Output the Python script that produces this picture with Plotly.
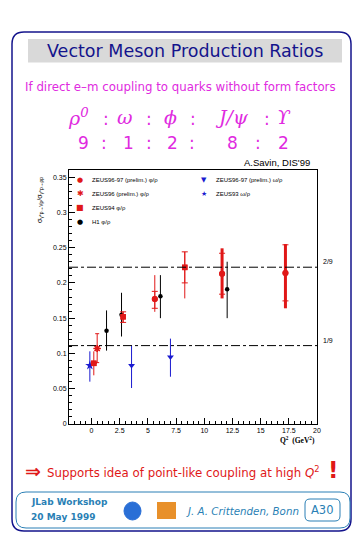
import plotly.graph_objects as go

# ---------------- data ----------------
x_ticks = [0, 2.5, 5, 7.5, 10, 12.5, 15, 17.5, 20]
x_tick_labels = ["0", "2.5", "5", "7.5", "10", "12.5", "15", "17.5", "20"]
y_ticks = [0, 0.05, 0.1, 0.15, 0.2, 0.25, 0.3, 0.35]
y_tick_labels = ["0", "0.05", "0.1", "0.15", "0.2", "0.25", "0.3", "0.35"]

# ZEUS96-97 (prelim.) phi/rho  (red circles)
z9697_phi_q2 = [5.61, 11.58, 17.2]
z9697_phi_r = [0.177, 0.213, 0.214]
z9697_phi_tot_up = [0.034, 0.036, 0.041]
z9697_phi_tot_dn = [0.018, 0.035, 0.050]
z9697_phi_stat_up = [0.011, 0.029, 0.040]
z9697_phi_stat_dn = [0.013, 0.029, 0.0395]

# ZEUS96 (prelim.) phi/rho (red star)
z96_phi_q2 = [0.5]
z96_phi_r = [0.107]
z96_phi_tot_up = [0.021]
z96_phi_tot_dn = [0.020]

# ZEUS94 phi/rho (red squares)
z94_phi_q2 = [0.2, 2.8, 8.27]
z94_phi_r = [0.086, 0.152, 0.222]
z94_phi_tot_up = [0.017, 0.007, 0.022]
z94_phi_tot_dn = [0.017, 0.008, 0.044]
z94_phi_stat_up = [0.0, 0.007, 0.022]
z94_phi_stat_dn = [0.0, 0.008, 0.022]

# H1 phi/rho (black)
h1_phi_q2 = [1.33, 2.66, 6.11, 12.03]
h1_phi_r = [0.132, 0.155, 0.181, 0.191]
h1_phi_up = [0.029, 0.031, 0.030, 0.039]
h1_phi_dn = [0.028, 0.031, 0.031, 0.041]

# ZEUS96-97 (prelim.) omega/rho (blue triangles)
z9697_om_q2 = [3.55, 7.0]
z9697_om_r = [0.083, 0.095]
z9697_om_up = [0.028, 0.026]
z9697_om_dn = [0.032, 0.028]

# ZEUS93 omega/rho (blue star)
z93_om_q2 = [-0.15]
z93_om_r = [0.083]
z93_om_up = [0.020]
z93_om_dn = [0.023]

ref_levels = [2 / 9, 1 / 9]
ref_labels = ["2/9", "1/9"]

legend_left = ["ZEUS96-97 (prelim.) φ/ρ", "ZEUS96 (prelim.) φ/ρ", "ZEUS94 φ/ρ", "H1 φ/ρ"]
legend_right = ["ZEUS96-97 (prelim.) ω/ρ", "ZEUS93 ω/ρ"]

ratio_names = ["ρ<sup>0</sup>", "ω", "ϕ", "J/ψ", "ϒ"]
ratio_values = ["9", "1", "2", "8", "2"]

# ---------------- styles ----------------
RED = "#e01818"
BLUE = "#1a1ad0"
BLACK = "#000000"
MAG = "#e02ae0"
NAVY = "#14148c"
TEAL = "#2a7fb5"

W, H = 363, 535
L, R, T, B = 69, 46, 170, 111
PW, PH = W - L - R, H - T - B


def xp(px):
    return (px - L) / PW


def yp(py):
    return (H - B - py) / PH


fig = go.Figure()


def add_series(x, y, up, dn, color, symbol, size, thick=1.0, stat_up=None, stat_dn=None, cap=0):
    fig.add_trace(go.Scatter(
        x=x, y=y, mode="markers",
        marker=dict(color=color, symbol=symbol, size=size, line=dict(width=0)),
        error_y=dict(type="data", symmetric=False, array=up, arrayminus=dn,
                     color=color, thickness=thick, width=cap),
        showlegend=False, hoverinfo="skip"))
    if stat_up is not None:
        fig.add_trace(go.Scatter(
            x=x, y=y, mode="markers",
            marker=dict(color=color, symbol=symbol, size=size, line=dict(width=0)),
            error_y=dict(type="data", symmetric=False, array=stat_up, arrayminus=stat_dn,
                         color=color, thickness=1, width=3),
            showlegend=False, hoverinfo="skip"))


# blue
add_series(z93_om_q2, z93_om_r, z93_om_up, z93_om_dn, BLUE, "star", 7)
add_series(z9697_om_q2, z9697_om_r, z9697_om_up, z9697_om_dn, BLUE, "triangle-down", 6)
# black H1
add_series(h1_phi_q2, h1_phi_r, h1_phi_up, h1_phi_dn, BLACK, "circle", 4.5)
# red
add_series(z96_phi_q2, z96_phi_r, z96_phi_tot_up, z96_phi_tot_dn, RED, "asterisk-open", 6, cap=2)
fig.add_trace(go.Scatter(x=z96_phi_q2, y=z96_phi_r, mode="markers",
                         marker=dict(color=RED, symbol="asterisk-open", size=6,
                                     line=dict(color=RED, width=1.5)),
                         showlegend=False, hoverinfo="skip"))
add_series(z94_phi_q2, z94_phi_r, z94_phi_tot_up, z94_phi_tot_dn, RED, "square", 5.5,
           stat_up=z94_phi_stat_up, stat_dn=z94_phi_stat_dn)
THIN = [0]
THICK = [1, 2]
for idxs, th in ((THIN, 1.0), (THICK, 3.0)):
    add_series([z9697_phi_q2[i] for i in idxs], [z9697_phi_r[i] for i in idxs],
               [z9697_phi_tot_up[i] for i in idxs], [z9697_phi_tot_dn[i] for i in idxs],
               RED, "circle", 6, thick=th,
               stat_up=[z9697_phi_stat_up[i] for i in idxs],
               stat_dn=[z9697_phi_stat_dn[i] for i in idxs])

# reference lines
for lev, lab in zip(ref_levels, ref_labels):
    fig.add_shape(type="line", xref="x", yref="y", x0=-2, x1=20, y0=lev, y1=lev,
                  line=dict(color=BLACK, width=1, dash="dashdot"))
    fig.add_annotation(xref="paper", yref="y", x=xp(321), y=lev, text=lab, showarrow=False,
                       xanchor="left", yanchor="bottom", font=dict(size=7, color=BLACK,
                                                                    family="Liberation Sans"))

shapes = []
annotations = []


def rounded(x0, y0, x1, y1, r, color, width, fill=None):
    p = (f"M {xp(x0 + r)} {yp(y0)} L {xp(x1 - r)} {yp(y0)} Q {xp(x1)} {yp(y0)} {xp(x1)} {yp(y0 + r)} "
         f"L {xp(x1)} {yp(y1 - r)} Q {xp(x1)} {yp(y1)} {xp(x1 - r)} {yp(y1)} "
         f"L {xp(x0 + r)} {yp(y1)} Q {xp(x0)} {yp(y1)} {xp(x0)} {yp(y1 - r)} "
         f"L {xp(x0)} {yp(y0 + r)} Q {xp(x0)} {yp(y0)} {xp(x0 + r)} {yp(y0)} Z")
    shapes.append(dict(type="path", xref="paper", yref="paper", path=p,
                       line=dict(color=color, width=width),
                       fillcolor=fill if fill else "rgba(0,0,0,0)", layer="below"))


# outer frame
rounded(12, 32, 351, 531, 12, NAVY, 1.5)
# title band
shapes.append(dict(type="rect", xref="paper", yref="paper", x0=xp(28), x1=xp(342), y0=yp(39), y1=yp(62.5),
                   fillcolor="#d9d9d9", line=dict(width=0), layer="below"))
# bottom box
rounded(16, 492, 350, 528, 10, TEAL, 1)
rounded(305, 499, 340, 521, 5, TEAL, 1)
# logos
shapes.append(dict(type="circle", xref="paper", yref="paper", x0=xp(124), x1=xp(141), y0=yp(502), y1=yp(520),
                   fillcolor="#2a6fd6", line=dict(color="#2a6fd6", width=1)))
shapes.append(dict(type="rect", xref="paper", yref="paper", x0=xp(157), x1=xp(176), y0=yp(502), y1=yp(519),
                   fillcolor="#e8902a", line=dict(width=0)))


def txt(x, y, s, size, color, family="DejaVu Sans", xanchor="center", angle=0):
    annotations.append(dict(xref="paper", yref="paper", x=xp(x), y=yp(y), text=s, showarrow=False,
                            xanchor=xanchor, yanchor="middle", textangle=angle,
                            font=dict(size=size, color=color, family=family)))


txt(185, 51, "Vector Meson Production Ratios", 17.5, NAVY)
txt(180, 87.5, "If direct e–m coupling to quarks without form factors", 11.8, MAG)

name_x = [78, 125, 170, 232, 284]
colon_name_x = [106, 149, 193, 267]
for s, x in zip(ratio_names, name_x):
    txt(x, 117, f"<i>{s}</i>", 19, MAG, family="DejaVu Serif")
for x in colon_name_x:
    txt(x, 119, ":", 17, MAG)
val_x = [83, 128, 172, 232, 283]
colon_val_x = [104, 149, 192, 258]
for s, x in zip(ratio_values, val_x):
    txt(x, 143, s, 17, MAG)
for x in colon_val_x:
    txt(x, 143, ":", 17, MAG)

txt(312, 162.5, "A.Savin, DIS'99", 9.5, BLACK, family="Liberation Sans", xanchor="right")

# in-plot legend
leg_rows = [179.5, 193.5, 207.5, 221.5]
left_sym = [("●", RED, 7), ("✱", RED, 8), ("■", RED, 8), ("●", BLACK, 7)]
for (sym, col, sz), lab, y in zip(left_sym, legend_left, leg_rows):
    txt(80, y, sym, sz, col)
    txt(90, y, lab, 6, BLACK, family="Liberation Sans", xanchor="left")
right_sym = [("▼", BLUE, 7), ("★", BLUE, 7)]
for (sym, col, sz), lab, y in zip(right_sym, legend_right, leg_rows[:2]):
    txt(204, y, sym, sz, col)
    txt(214, y, lab, 6, BLACK, family="Liberation Sans", xanchor="left")

# axis titles
txt(317, 440, "<b>Q<sup>2</sup>  (GeV<sup>2</sup>)</b>", 7.5, BLACK, family="Liberation Serif", xanchor="right")
txt(40, 200, "σ<sub>γ*p→Vp</sub>/σ<sub>γ*p→ρp</sub>", 7, BLACK, family="Liberation Sans", angle=-90)

# bottom statement
txt(23, 471, "<b>⇒</b>", 19, RED, xanchor="left")
txt(45, 471.5, "Supports idea of point-like coupling at high <i>Q</i><sup>2</sup>", 11.8, RED, xanchor="left")
txt(333, 469.5, "<b>!</b>", 23, RED)

txt(29, 502, "<b>JLab Workshop</b>", 9, TEAL, xanchor="left")
txt(29, 517, "<b>20 May 1999</b>", 9, TEAL, xanchor="left")
txt(184, 510.5, "<i>J. A. Crittenden, Bonn</i>", 10.3, TEAL, xanchor="left")
txt(322.5, 510, "A30", 11.5, TEAL)

fig.update_layout(
    width=W, height=H,
    margin=dict(l=L, r=R, t=T, b=B, pad=0),
    paper_bgcolor="white", plot_bgcolor="white",
    showlegend=False,
    shapes=list(fig.layout.shapes) + shapes,
    annotations=list(fig.layout.annotations) + annotations,
    font=dict(family="Liberation Sans", color=BLACK),
)
fig.update_xaxes(range=[-2, 20], tickvals=x_ticks, ticktext=x_tick_labels, ticks="inside",
                 ticklen=6, tickwidth=1, tickcolor=BLACK, showline=True, linecolor=BLACK,
                 linewidth=1, mirror=True, showgrid=False, zeroline=False,
                 tickfont=dict(size=7, family="Liberation Sans", color=BLACK),
                 minor=dict(dtick=0.5, ticks="inside", ticklen=3, tickcolor=BLACK, showgrid=False))
fig.update_yaxes(range=[0, 0.36], tickvals=y_ticks, ticktext=y_tick_labels, ticks="inside",
                 ticklen=6, tickwidth=1, tickcolor=BLACK, showline=True, linecolor=BLACK,
                 linewidth=1, mirror=True, showgrid=False, zeroline=False,
                 tickfont=dict(size=7, family="Liberation Sans", color=BLACK),
                 minor=dict(dtick=0.01, ticks="inside", ticklen=3, tickcolor=BLACK, showgrid=False))

fig.write_html("out.html", config={"displayModeBar": False},
               post_script="document.body.style.margin='0';document.body.style.overflow='hidden';")
